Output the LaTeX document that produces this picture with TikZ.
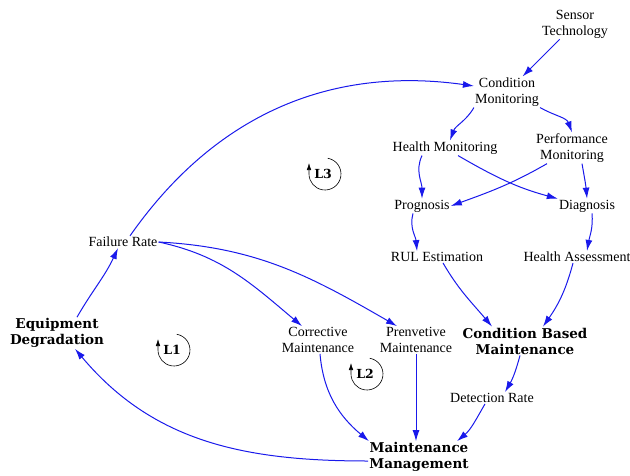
\documentclass[tikz,border=0pt]{standalone}
\usepackage{fontspec}
\setmainfont{Liberation Serif}
\newfontfamily\heavyfont{DejaVu Serif}
\usetikzlibrary{arrows.meta}
\definecolor{linkblue}{RGB}{25,25,235}
\tikzstyle{factor}=[align=center,inner sep=1pt,font=\fontsize{14}{16}\selectfont]
\tikzstyle{keyfactor}=[align=center,inner sep=1pt,font=\heavyfont\bfseries\fontsize{13.5}{16}\selectfont]
\tikzstyle{link}=[draw=linkblue,line width=1pt,-{Latex[length=11pt,width=7pt]}]
\tikzstyle{loopname}=[inner sep=0pt,font=\heavyfont\bfseries\fontsize{12.5}{14}\selectfont]
\tikzstyle{looparc}=[line width=0.6pt,-{Latex[length=7pt,width=4.5pt]}]

\begin{document}
\begin{tikzpicture}[x=1pt,y=-1pt]
                    \useasboundingbox (0,0) rectangle (630,475);
                    \node (st) at (575,24) [factor] {Sensor\\Technology};
                    \node (cm) at (507,92) [factor] {Condition\\Monitoring};
                    \node (hm) at (445,148) [factor] {Health Monitoring};
                    \node (pm) at (572,148) [factor] {Performance\\Monitoring};
                    \node (pg) at (422,206) [factor] {Prognosis};
                    \node (dg) at (587,206) [factor] {Diagnosis};
                    \node (rul) at (437,257) [factor] {RUL Estimation};
                    \node (ha) at (577,257) [factor] {Health Assessment};
                    \node (cbm) at (525,341) [keyfactor] {Condition Based\\Maintenance};
                    \node (dr) at (492,398) [factor] {Detection Rate};
                    \node (mm) at (419,457) [keyfactor] {Maintenance\\Management};
                    \node (cr) at (318,340) [factor] {Corrective\\Maintenance};
                    \node (pv) at (416,340) [factor] {Prenvetive\\Maintenance};
                    \node (fr) at (123,242) [factor] {Failure Rate};
                    \node (ed) at (57,333) [keyfactor] {Equipment\\Degradation};
                    \node (l1) at (172,350) [loopname] {L1};
                    \node (l2) at (365,374) [loopname] {L2};
                    \node (l3) at (323,174) [loopname] {L3};

                    \draw [link] (st) -- (cm);
                    \draw [link] ([xshift=7pt]fr.north) to [out=55,in=172] ([yshift=6pt]cm.west);
                    \draw [link] (cm.south west) to [out=-120,in=70] ([xshift=5pt]hm.north);
                    \draw [link] (cm.south east) to [out=-30,in=110] (pm.north);
                    \draw [link] ([xshift=-23pt]hm.south) to [out=-115,in=90] (pg.north);
                    \draw [link] ([xshift=13pt]hm.south) to [out=-30,in=165] (dg.north west);
                    \draw [link] ([xshift=-25pt]pm.south) to [out=-150,in=20] (pg.east);
                    \draw [link] ([xshift=10pt]pm.south) to [out=-80,in=95] (dg.north);
                    \draw [link] ([xshift=-9pt]pg.south) to [out=-105,in=95] ([xshift=-20pt]rul.north);
                    \draw [link] ([xshift=5pt]dg.south) to [out=-85,in=80] ([xshift=10pt]ha.north);
                    \draw [link] ([xshift=6pt]rul.south) to [out=-60,in=130] ([xshift=-33pt]cbm.north);
                    \draw [link] ([xshift=-4pt]ha.south) to [out=-105,in=55] ([xshift=18pt]cbm.north);
                    \draw [link] ([xshift=-5pt]cbm.south) to [out=-105,in=60] ([xshift=13pt]dr.north);
                    \draw [link] ([xshift=-7pt]dr.south) to [out=-120,in=40] ([xshift=38pt]mm.north);
                    \draw [link] (pv.south) -- (pv.south |- mm.north);
                    \draw [link] ([xshift=2pt]cr.south) to [out=-85,in=140] ([xshift=-50pt]mm.north);
                    \draw [link] (fr.east) to [out=-12,in=140] ([xshift=-16pt]cr.north);
                    \draw [link] (fr.east) to [out=-3,in=150] ([xshift=-19pt]pv.north);
                    \draw [link] ([xshift=20pt]ed.north) to [out=60,in=-115] ([xshift=-5pt]fr.south);
                    \draw [link] ([yshift=-4pt]mm.west) to [out=180,in=-50] ([xshift=18pt]ed.south);

                    \draw [looparc] ([shift={(80:16pt)}]l1.center) ++(2pt,0pt) arc [start angle=80,end angle=-180,radius=16pt] -- ++(0pt,11pt);
                    \draw [looparc] ([shift={(80:16pt)}]l2.center) ++(2pt,0pt) arc [start angle=80,end angle=-180,radius=16pt] -- ++(0pt,11pt);
                    \draw [looparc] ([shift={(80:16pt)}]l3.center) ++(2pt,0pt) arc [start angle=80,end angle=-180,radius=16pt] -- ++(0pt,11pt);
                \end{tikzpicture}
\end{document}
